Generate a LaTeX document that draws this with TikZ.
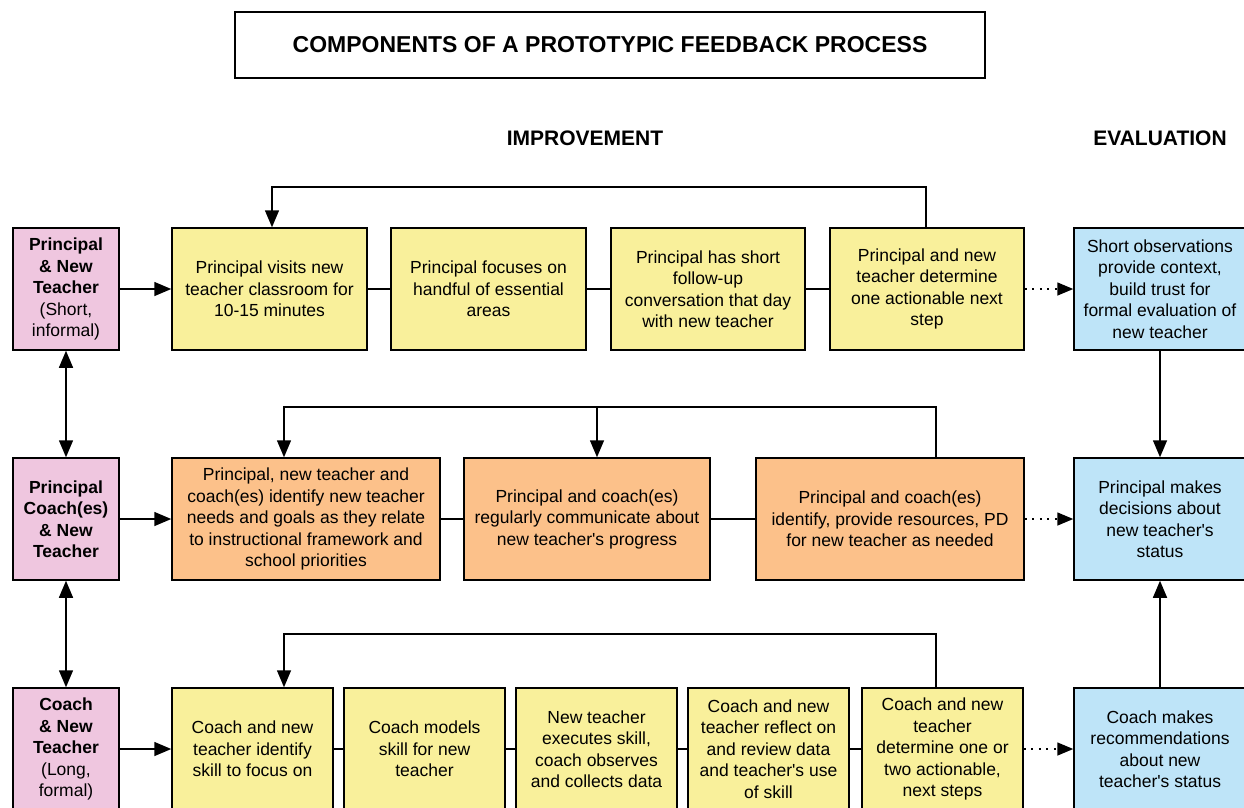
\documentclass[tikz,border=0pt]{standalone}
\usepackage{fontspec}
\setmainfont{Liberation Sans}
\usetikzlibrary{arrows.meta}
\definecolor{pinkc}{HTML}{EFC6DF}
\definecolor{yellowc}{HTML}{F9F09B}
\definecolor{orangec}{HTML}{FCC18A}
\definecolor{bluec}{HTML}{BEE4F8}
\newcommand{\ap}{\textquotesingle}
\begin{document}
\begin{tikzpicture}[x=1pt,y=-1pt,
  box/.style={draw=black, line width=1.5pt, rectangle, inner sep=0pt, align=center,
    font=\fontsize{17.5}{21.5}\selectfont, minimum height=122pt},
  actor/.style={box, fill=pinkc, minimum width=106pt},
  ybox/.style={box, fill=yellowc},
  obox/.style={box, fill=orangec},
  ebox/.style={box, fill=bluec, minimum width=172pt},
  conn/.style={line width=1.5pt},
  arr/.style={conn, -{Triangle[length=17pt,width=14pt]}},
  darr/.style={conn, {Triangle[length=17pt,width=14pt]}-{Triangle[length=17pt,width=14pt]}},
  dotarr/.style={conn, dash pattern=on 2pt off 5.5pt, -{Triangle[length=16pt,width=13pt]}},
  head/.style={font=\fontsize{21}{25}\selectfont\bfseries}
]
\useasboundingbox (0,0) rectangle (1244,807);

% title
\node[draw=black, line width=1.2pt, minimum width=750pt, minimum height=66pt, inner sep=0pt,
  font=\fontsize{23}{27}\selectfont\bfseries] (title) at (610,45) {COMPONENTS OF A PROTOTYPIC FEEDBACK PROCESS};
\node[head] (impr) at (585,138) {IMPROVEMENT};
\node[head] (eval) at (1160,138) {EVALUATION};

% row 1
\node[actor] (P1) at (66,289) {\textbf{Principal}\\\textbf{\& New}\\\textbf{Teacher}\\(Short,\\informal)};
\node[ybox, minimum width=195pt] (Y1) at (269.5,289) {Principal visits new\\teacher classroom for\\10-15 minutes};
\node[ybox, minimum width=195pt] (Y2) at (488.5,289) {Principal focuses on\\handful of essential\\areas};
\node[ybox, minimum width=194pt] (Y3) at (708,289) {Principal has short\\follow-up\\conversation that day\\with new teacher};
\node[ybox, minimum width=194pt] (Y4) at (927,289) {Principal and new\\teacher determine\\one actionable next\\step};
\node[ebox] (E1) at (1160,289) {Short observations\\provide context,\\build trust for\\formal evaluation of\\new teacher};

% row 2
\node[actor] (P2) at (66,519) {\textbf{Principal}\\\textbf{Coach(es)}\\\textbf{\& New}\\\textbf{Teacher}};
\node[obox, minimum width=268pt] (O1) at (306,519) {Principal, new teacher and\\coach(es) identify new teacher\\needs and goals as they relate\\to instructional framework and\\school priorities};
\node[obox, minimum width=246pt] (O2) at (587,519) {Principal and coach(es)\\regularly communicate about\\new teacher\ap s progress};
\node[obox, minimum width=268pt] (O3) at (890,519) {Principal and coach(es)\\identify, provide resources, PD\\for new teacher as needed};
\node[ebox] (E2) at (1160,519) {Principal makes\\decisions about\\new teacher\ap s\\status};

% row 3
\node[actor] (P3) at (66,749) {\textbf{Coach}\\\textbf{\& New}\\\textbf{Teacher}\\(Long,\\formal)};
\node[ybox, minimum width=161pt] (B1) at (252.5,749) {Coach and new\\teacher identify\\skill to focus on};
\node[ybox, minimum width=161pt] (B2) at (424.5,749) {Coach models\\skill for new\\teacher};
\node[ybox, minimum width=161pt] (B3) at (596.5,749) {New teacher\\executes skill,\\coach observes\\and collects data};
\node[ybox, minimum width=161pt] (B4) at (768.5,749) {Coach and new\\teacher reflect on\\and review data\\and teacher\ap s use\\of skill};
\node[ybox, minimum width=161pt] (B5) at (942.5,749) {Coach and new\\teacher\\determine one or\\two actionable,\\next steps};
\node[ebox] (E3) at (1160,749) {Coach makes\\recommendations\\about new\\teacher\ap s status};

% row 1 connectors
\draw[arr] (P1) -- (Y1);
\draw[conn] (Y1) -- (Y2);
\draw[conn] (Y2) -- (Y3);
\draw[conn] (Y3) -- (Y4);
\draw[dotarr] (Y4) -- (E1);
\coordinate (f1a) at (926,187);
\coordinate (f1b) at (272,187);
\draw[arr] (f1a |- Y4.north) -- (f1a) -- (f1b) -- (f1b |- Y1.north);

% row 2 connectors
\draw[arr] (P2) -- (O1);
\draw[conn] (O1) -- (O2);
\draw[conn] (O2) -- (O3);
\draw[dotarr] (O3) -- (E2);
\coordinate (f2a) at (936,407);
\coordinate (f2b) at (284,407);
\coordinate (f2c) at (597,407);
\draw[arr] (f2a |- O3.north) -- (f2a) -- (f2b) -- (f2b |- O1.north);
\draw[arr] (f2c) -- (f2c |- O2.north);

% row 3 connectors
\draw[arr] (P3) -- (B1);
\draw[conn] (B1) -- (B2);
\draw[conn] (B2) -- (B3);
\draw[conn] (B3) -- (B4);
\draw[conn] (B4) -- (B5);
\draw[dotarr] (B5) -- (E3);
\coordinate (f3a) at (936,634);
\coordinate (f3b) at (284,634);
\draw[arr] (f3a |- B5.north) -- (f3a) -- (f3b) -- (f3b |- B1.north);

% vertical connectors
\draw[darr] (P1) -- (P2);
\draw[darr] (P2) -- (P3);
\draw[arr] (E1) -- (E2);
\draw[arr] (E3) -- (E2);
\end{tikzpicture}
\end{document}
